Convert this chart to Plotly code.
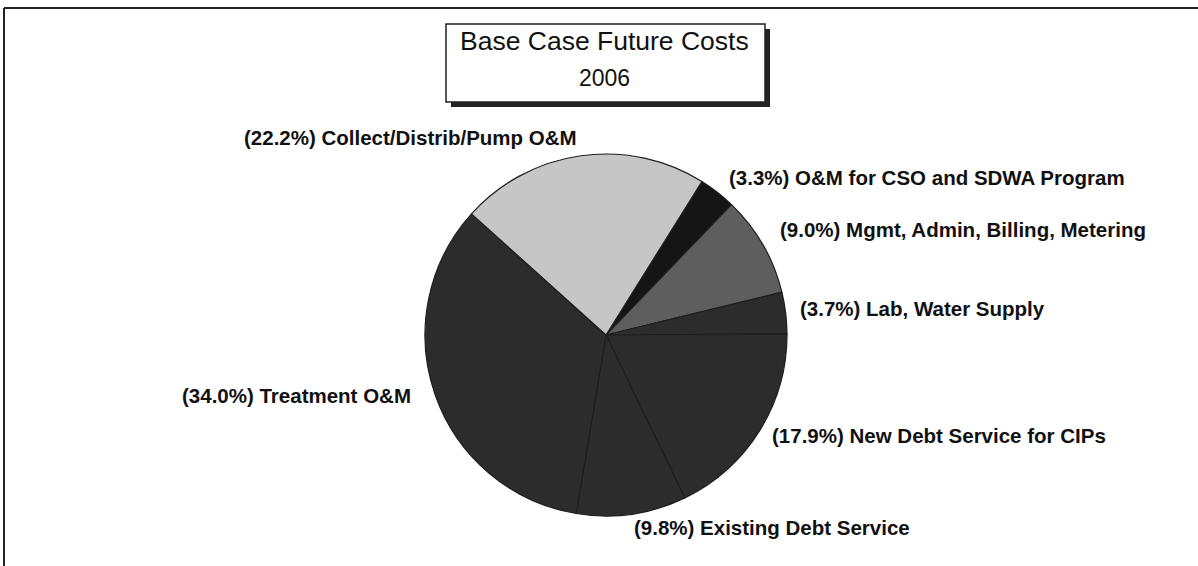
import plotly.graph_objects as go

# Cost categories, listed clockwise starting from the CSO slice
categories = [
    "O&M for CSO and SDWA Program",
    "Mgmt, Admin, Billing, Metering",
    "Lab, Water Supply",
    "New Debt Service for CIPs",
    "Existing Debt Service",
    "Treatment O&M",
    "Collect/Distrib/Pump O&M",
]
shares = [3.3, 9.0, 3.7, 17.9, 9.8, 34.0, 22.2]

slice_colors = ["#151515", "#5e5e5e", "#2c2c2c", "#2c2c2c", "#2c2c2c", "#2c2c2c", "#c6c6c6"]

# label anchor (left edge x, centre y) in pixels, one per category
label_pos = [
    (727, 177),
    (778, 229),
    (798, 308),
    (770, 435),
    (632, 527),
    (180, 395),
    (242, 138),
]

W, H = 1198, 566
cx, cy, r = 606, 335, 181

fig = go.Figure(
    go.Pie(
        labels=categories,
        values=shares,
        sort=False,
        direction="clockwise",
        rotation=32,
        marker=dict(colors=slice_colors, line=dict(color="#1e1e1e", width=1.2)),
        textinfo="none",
        hoverinfo="label+percent",
        showlegend=False,
        domain=dict(x=[(cx - r) / W, (cx + r) / W], y=[1 - (cy + r) / H, 1 - (cy - r) / H]),
    )
)

annotations = []
for name, val, (lx, ly) in zip(categories, shares, label_pos):
    annotations.append(
        dict(
            text=f"<b>({val:.1f}%) {name}</b>",
            x=lx / W, y=1 - ly / H, xref="paper", yref="paper",
            xanchor="left", yanchor="middle", showarrow=False,
            font=dict(family="Liberation Sans, Arial", size=20.5, color="#111"),
        )
    )

# title box lines
annotations.append(dict(text="Base Case Future Costs", x=604 / W, y=1 - 41 / H, xref="paper", yref="paper",
                        xanchor="center", yanchor="middle", showarrow=False,
                        font=dict(family="Liberation Sans, Arial", size=26.5, color="#111")))
annotations.append(dict(text="2006", x=604 / W, y=1 - 78 / H, xref="paper", yref="paper",
                        xanchor="center", yanchor="middle", showarrow=False,
                        font=dict(family="Liberation Sans, Arial", size=23, color="#111")))

shapes = [
    # drop shadow then the title box
    dict(type="rect", xref="paper", yref="paper", x0=451 / W, x1=770 / W, y0=1 - 107 / H, y1=1 - 29 / H,
         line=dict(width=0), fillcolor="#222"),
    dict(type="rect", xref="paper", yref="paper", x0=446 / W, x1=765 / W, y0=1 - 102 / H, y1=1 - 24 / H,
         line=dict(width=1.5, color="#222"), fillcolor="white"),
    # outer frame (top and left edges)
    dict(type="line", xref="paper", yref="paper", x0=4 / W, x1=1, y0=1 - 8 / H, y1=1 - 8 / H,
         line=dict(width=2, color="#222")),
    dict(type="line", xref="paper", yref="paper", x0=4 / W, x1=4 / W, y0=1 - 8 / H, y1=0,
         line=dict(width=2, color="#222")),
]

fig.update_layout(
    width=W, height=H,
    margin=dict(l=0, r=0, t=0, b=0),
    paper_bgcolor="white", plot_bgcolor="white",
    annotations=annotations,
    shapes=shapes,
)

fig.write_html("out.html", config={"displayModeBar": False})
